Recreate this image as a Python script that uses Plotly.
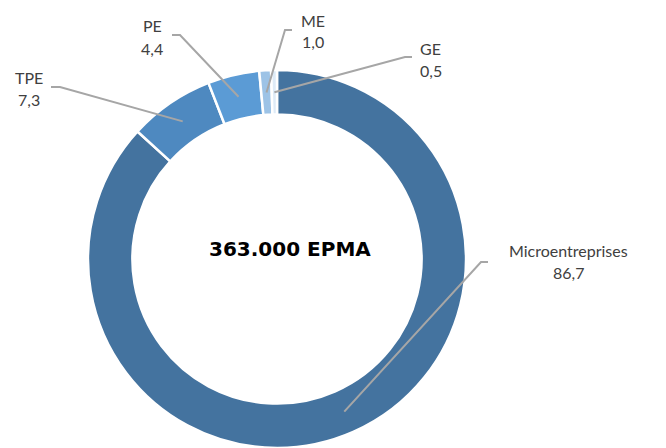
import math
import plotly.graph_objects as go

# data
categories = ["Microentreprises", "TPE", "PE", "ME", "GE"]
shares = [86.7, 7.3, 4.4, 1.0, 0.5]
value_labels = ["86,7", "7,3", "4,4", "1,0", "0,5"]
colors = ["#44739F", "#4E89C0", "#5B9BD5", "#9DC3E6", "#DEEBF7"]
center_text = "363.000 EPMA"

W, H = 666, 448
OFF = 8  # page body margin
CX, CY, R_OUT = 277, 259, 189
HOLE = 0.765

# label text centre and leader elbow (window pixels) per category
label_pos = {
    "Microentreprises": (568, 261),
    "TPE": (29, 88),
    "PE": (152, 37),
    "ME": (313, 31),
    "GE": (431, 59),
}
leader = {
    "Microentreprises": [(488, 262), (481, 262)],
    "TPE": [(51, 87), (60, 87)],
    "PE": [(172, 35), (180, 35)],
    "ME": [(292, 30), (285, 30)],
    "GE": [(412, 57), (405, 57)],
}


def px(x):
    return (x - OFF) / W


def py(y):
    return 1 - (y - OFF) / H


fig = go.Figure(go.Pie(
    labels=categories,
    values=shares,
    hole=HOLE,
    sort=False,
    direction="clockwise",
    rotation=0,
    marker=dict(colors=colors, line=dict(color="white", width=2.5)),
    textinfo="none",
    hoverinfo="label+value",
    showlegend=False,
    domain=dict(x=[px(CX - R_OUT), px(CX + R_OUT)], y=[py(CY + R_OUT), py(CY - R_OUT)]),
))

# leader lines from labels to the middle of each ring slice
total = sum(shares)
r_mid = R_OUT * (1 + HOLE) / 2
cum = 0
shapes = []
annotations = []
label_font = dict(family="Lato, sans-serif", size=16, color="#404040")
for cat, val, vl in zip(categories, shares, value_labels):
    ang = 2 * math.pi * (cum + val / 2) / total
    cum += val
    ex = CX + r_mid * math.sin(ang)
    ey = CY - r_mid * math.cos(ang)
    (x1, y1), (x2, y2) = leader[cat]
    path = f"M {px(x1)} {py(y1)} L {px(x2)} {py(y2)} L {px(ex)} {py(ey)}"
    shapes.append(dict(type="path", path=path, xref="paper", yref="paper",
                       line=dict(color="#A6A6A6", width=2)))
    lx, ly = label_pos[cat]
    for txt, dy in ((cat, -11), (vl, 11)):
        annotations.append(dict(
            x=px(lx), y=py(ly + dy), xref="paper", yref="paper",
            text=txt, showarrow=False,
            xanchor="center", yanchor="middle",
            font=label_font,
        ))

annotations.append(dict(
    x=px(290), y=py(249), xref="paper", yref="paper",
    text=f"<b>{center_text}</b>", showarrow=False,
    xanchor="center", yanchor="middle",
    font=dict(family="DejaVu Sans, sans-serif", size=20, color="#000000"),
))

fig.update_layout(
    width=W, height=H,
    margin=dict(l=0, r=0, t=0, b=0),
    paper_bgcolor="white",
    plot_bgcolor="white",
    shapes=shapes,
    annotations=annotations,
)

fig.write_html("out.html")
